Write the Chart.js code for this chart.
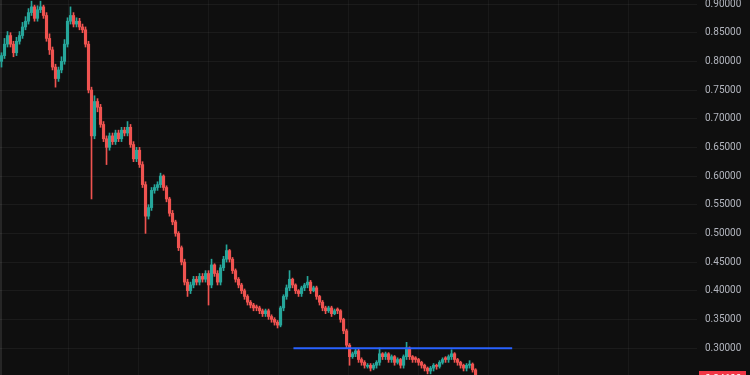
<!DOCTYPE html>
<html>
<head>
<meta charset="utf-8">
<script src="https://cdn.jsdelivr.net/npm/chart.js@4/dist/chart.umd.min.js"></script>
<style>
  html, body { margin: 0; padding: 0; background: #0f0f0f; }
  canvas { display: block; }
</style>
</head>
<body>
<canvas id="price-chart" width="750" height="375"></canvas>
<script>
// OHLC, one candle per slot
const opens = [
  0.80, 0.81, 0.83, 0.845, 0.83, 0.815, 0.835, 0.845, 0.86, 0.87,
  0.885, 0.895, 0.875, 0.89, 0.895, 0.88, 0.84, 0.82, 0.79, 0.77,
  0.785, 0.80, 0.83, 0.87, 0.88, 0.865, 0.87, 0.86, 0.855, 0.83,
  0.75, 0.67, 0.73, 0.72, 0.69, 0.665, 0.65, 0.67, 0.66, 0.675,
  0.665, 0.68, 0.675, 0.685, 0.655, 0.63, 0.645, 0.62, 0.585, 0.53,
  0.545, 0.575, 0.58, 0.585, 0.60, 0.58, 0.56, 0.535, 0.52, 0.50,
  0.475, 0.45, 0.415, 0.40, 0.41, 0.42, 0.415, 0.425, 0.42, 0.43,
  0.41, 0.445, 0.43, 0.415, 0.44, 0.455, 0.47, 0.455, 0.435, 0.42,
  0.41, 0.40, 0.39, 0.38, 0.375, 0.372, 0.37, 0.365, 0.36, 0.365,
  0.355, 0.35, 0.345, 0.34, 0.37, 0.39, 0.405, 0.42, 0.41, 0.40,
  0.395, 0.405, 0.41, 0.415, 0.40, 0.405, 0.39, 0.38, 0.37, 0.365,
  0.37, 0.36, 0.368, 0.365, 0.35, 0.33, 0.305, 0.285, 0.29, 0.295,
  0.28, 0.275, 0.268, 0.27, 0.265, 0.27, 0.275, 0.29, 0.285, 0.29,
  0.28, 0.285, 0.275, 0.28, 0.27, 0.285, 0.30, 0.285, 0.283, 0.28,
  0.275, 0.27, 0.265, 0.26, 0.265, 0.27, 0.268, 0.275, 0.283, 0.28,
  0.285, 0.29, 0.28, 0.275, 0.27, 0.265, 0.27, 0.272, 0.262, 0.25
];
const highs = [
  0.815, 0.84, 0.852, 0.85, 0.835, 0.842, 0.852, 0.868, 0.878, 0.892,
  0.905, 0.898, 0.897, 0.905, 0.898, 0.885, 0.848, 0.825, 0.795, 0.79,
  0.808, 0.838, 0.876, 0.895, 0.885, 0.876, 0.875, 0.865, 0.86, 0.835,
  0.755, 0.74, 0.735, 0.725, 0.695, 0.67, 0.675, 0.675, 0.68, 0.68,
  0.685, 0.685, 0.695, 0.69, 0.66, 0.65, 0.65, 0.625, 0.59, 0.55,
  0.58, 0.585, 0.59, 0.605, 0.602, 0.583, 0.563, 0.54, 0.523, 0.503,
  0.478, 0.455, 0.42, 0.415, 0.425, 0.425, 0.43, 0.43, 0.435, 0.435,
  0.455, 0.447, 0.435, 0.445, 0.46, 0.48, 0.472, 0.458, 0.438, 0.423,
  0.413, 0.403, 0.393, 0.383, 0.378, 0.375, 0.373, 0.368, 0.368, 0.368,
  0.358, 0.353, 0.348, 0.373, 0.393, 0.41, 0.435, 0.422, 0.412, 0.402,
  0.408, 0.413, 0.425, 0.418, 0.408, 0.408, 0.392, 0.383, 0.373, 0.373,
  0.373, 0.368, 0.37, 0.367, 0.352, 0.333, 0.308, 0.293, 0.298, 0.298,
  0.283, 0.278, 0.273, 0.273, 0.273, 0.278, 0.30, 0.292, 0.293, 0.292,
  0.288, 0.287, 0.283, 0.282, 0.288, 0.31, 0.302, 0.287, 0.285, 0.282,
  0.277, 0.272, 0.267, 0.268, 0.273, 0.272, 0.278, 0.283, 0.285, 0.288,
  0.297, 0.292, 0.282, 0.277, 0.272, 0.273, 0.278, 0.274, 0.264, 0.252
];
const lows = [
  0.79, 0.805, 0.825, 0.825, 0.808, 0.81, 0.83, 0.84, 0.855, 0.865,
  0.88, 0.87, 0.87, 0.885, 0.875, 0.835, 0.812, 0.785, 0.755, 0.765,
  0.78, 0.795, 0.825, 0.865, 0.86, 0.86, 0.855, 0.85, 0.825, 0.745,
  0.56, 0.665, 0.712, 0.685, 0.66, 0.62, 0.645, 0.655, 0.655, 0.66,
  0.66, 0.67, 0.67, 0.65, 0.625, 0.625, 0.615, 0.58, 0.50, 0.525,
  0.54, 0.57, 0.575, 0.58, 0.575, 0.555, 0.53, 0.515, 0.495, 0.47,
  0.445, 0.41, 0.39, 0.395, 0.405, 0.41, 0.41, 0.415, 0.415, 0.375,
  0.405, 0.425, 0.41, 0.41, 0.435, 0.45, 0.45, 0.43, 0.415, 0.405,
  0.395, 0.385, 0.375, 0.37, 0.365, 0.365, 0.36, 0.355, 0.355, 0.35,
  0.345, 0.34, 0.335, 0.337, 0.365, 0.385, 0.40, 0.405, 0.395, 0.39,
  0.39, 0.40, 0.405, 0.395, 0.398, 0.385, 0.375, 0.365, 0.36, 0.362,
  0.355, 0.358, 0.36, 0.345, 0.325, 0.30, 0.27, 0.282, 0.285, 0.275,
  0.27, 0.265, 0.265, 0.26, 0.262, 0.265, 0.27, 0.28, 0.28, 0.275,
  0.275, 0.27, 0.272, 0.265, 0.265, 0.28, 0.28, 0.275, 0.275, 0.27,
  0.265, 0.26, 0.255, 0.255, 0.26, 0.263, 0.265, 0.272, 0.275, 0.275,
  0.28, 0.275, 0.27, 0.265, 0.26, 0.26, 0.265, 0.258, 0.245, 0.24
];
const closes = [
  0.81, 0.83, 0.845, 0.83, 0.815, 0.835, 0.845, 0.86, 0.87, 0.885,
  0.895, 0.875, 0.89, 0.895, 0.88, 0.84, 0.82, 0.79, 0.77, 0.785,
  0.80, 0.83, 0.87, 0.88, 0.865, 0.87, 0.86, 0.855, 0.83, 0.75,
  0.67, 0.73, 0.72, 0.69, 0.665, 0.65, 0.67, 0.66, 0.675, 0.665,
  0.68, 0.675, 0.685, 0.655, 0.63, 0.645, 0.62, 0.585, 0.53, 0.545,
  0.575, 0.58, 0.585, 0.60, 0.58, 0.56, 0.535, 0.52, 0.50, 0.475,
  0.45, 0.415, 0.40, 0.41, 0.42, 0.415, 0.425, 0.42, 0.43, 0.41,
  0.445, 0.43, 0.415, 0.44, 0.455, 0.47, 0.455, 0.435, 0.42, 0.41,
  0.40, 0.39, 0.38, 0.375, 0.37, 0.37, 0.365, 0.36, 0.365, 0.355,
  0.35, 0.345, 0.34, 0.37, 0.39, 0.405, 0.42, 0.41, 0.40, 0.395,
  0.405, 0.41, 0.415, 0.40, 0.405, 0.39, 0.38, 0.37, 0.365, 0.37,
  0.36, 0.365, 0.365, 0.35, 0.33, 0.305, 0.285, 0.29, 0.295, 0.28,
  0.275, 0.27, 0.27, 0.265, 0.27, 0.275, 0.29, 0.285, 0.29, 0.28,
  0.285, 0.275, 0.28, 0.27, 0.285, 0.30, 0.285, 0.28, 0.28, 0.275,
  0.27, 0.265, 0.26, 0.265, 0.27, 0.268, 0.275, 0.28, 0.28, 0.285,
  0.29, 0.28, 0.275, 0.27, 0.265, 0.27, 0.272, 0.262, 0.25, 0.246
];

// horizontal level drawn across the last part of the range
const levelPrice = 0.2995;
const levelFrom = 97.3;
const levelTo = 170.2;

const yTickStep = 0.05;

const UP = "#26a69a";
const DOWN = "#ef5350";

const candleColors = closes.map((c, i) => (c >= opens[i] ? UP : DOWN));
const wickData = closes.map((c, i) => ({ x: i, y: [lows[i], highs[i]] }));
const bodyData = closes.map((c, i) => ({ x: i, y: [opens[i], c] }));

const chartBackground = {
  id: "chartBackground",
  beforeDraw(chart) {
    const ctx = chart.ctx;
    ctx.save();
    ctx.fillStyle = "#0f0f0f";
    ctx.fillRect(0, 0, chart.width, chart.height);
    ctx.fillStyle = "#262626";
    ctx.fillRect(0, 0, 2, chart.height);
    ctx.restore();
  },
};

// red last-price tag on the price axis
const lastPriceTag = {
  id: "lastPriceTag",
  afterDraw(chart) {
    const ctx = chart.ctx;
    const yScale = chart.scales.y;
    const last = closes[closes.length - 1];
    const y = yScale.getPixelForValue(last);
    const left = chart.chartArea.right + 2;
    ctx.save();
    ctx.fillStyle = "#f23645";
    ctx.fillRect(left, y - 8, 47, 16);
    ctx.fillStyle = "#ffffff";
    ctx.font = "10px Roboto";
    ctx.textBaseline = "middle";
    ctx.fillText(last.toFixed(5), left + 6, y);
    ctx.restore();
  },
};

const ctx = document.getElementById("price-chart").getContext("2d");

new Chart(ctx, {
  type: "bar",
  data: {
    datasets: [
      {
        type: "line",
        data: [
          { x: levelFrom, y: levelPrice },
          { x: levelTo, y: levelPrice },
        ],
        borderColor: "#2962ff",
        borderWidth: 2,
        pointRadius: 0,
        order: 0,
      },
      {
        data: wickData,
        backgroundColor: candleColors,
        barThickness: 1,
        grouped: false,
        order: 2,
      },
      {
        data: bodyData,
        backgroundColor: candleColors,
        barThickness: 2.5,
        grouped: false,
        order: 1,
      },
    ],
  },
  options: {
    responsive: false,
    animation: false,
    layout: { padding: 0 },
    plugins: {
      legend: { display: false },
      tooltip: { enabled: false },
    },
    scales: {
      x: {
        type: "linear",
        offset: false,
        min: -0.5,
        max: 231.8,
        border: { display: false },
        grid: { color: "rgba(255,255,255,0.045)", drawTicks: false, offset: false },
        ticks: { display: false },
        afterBuildTicks(scale) {
          const ticks = [];
          for (let v = 22.2; v < 231; v += 23.33) ticks.push({ value: v });
          scale.ticks = ticks;
        },
        afterFit(scale) {
          scale.height = 0;
        },
      },
      y: {
        position: "right",
        min: 0.253,
        max: 0.907,
        border: { display: false },
        grid: { color: "rgba(255,255,255,0.05)", drawTicks: false },
        ticks: {
          stepSize: yTickStep,
          includeBounds: false,
          padding: 8,
          color: "#b2b5be",
          font: { family: "Roboto", size: 10 },
          callback: (v) => v.toFixed(5),
        },
        afterFit(scale) {
          scale.width = 53;
          scale.paddingTop = 0;
          scale.paddingBottom = 0;
        },
      },
    },
  },
  plugins: [chartBackground, lastPriceTag],
});
</script>
</body>
</html>
